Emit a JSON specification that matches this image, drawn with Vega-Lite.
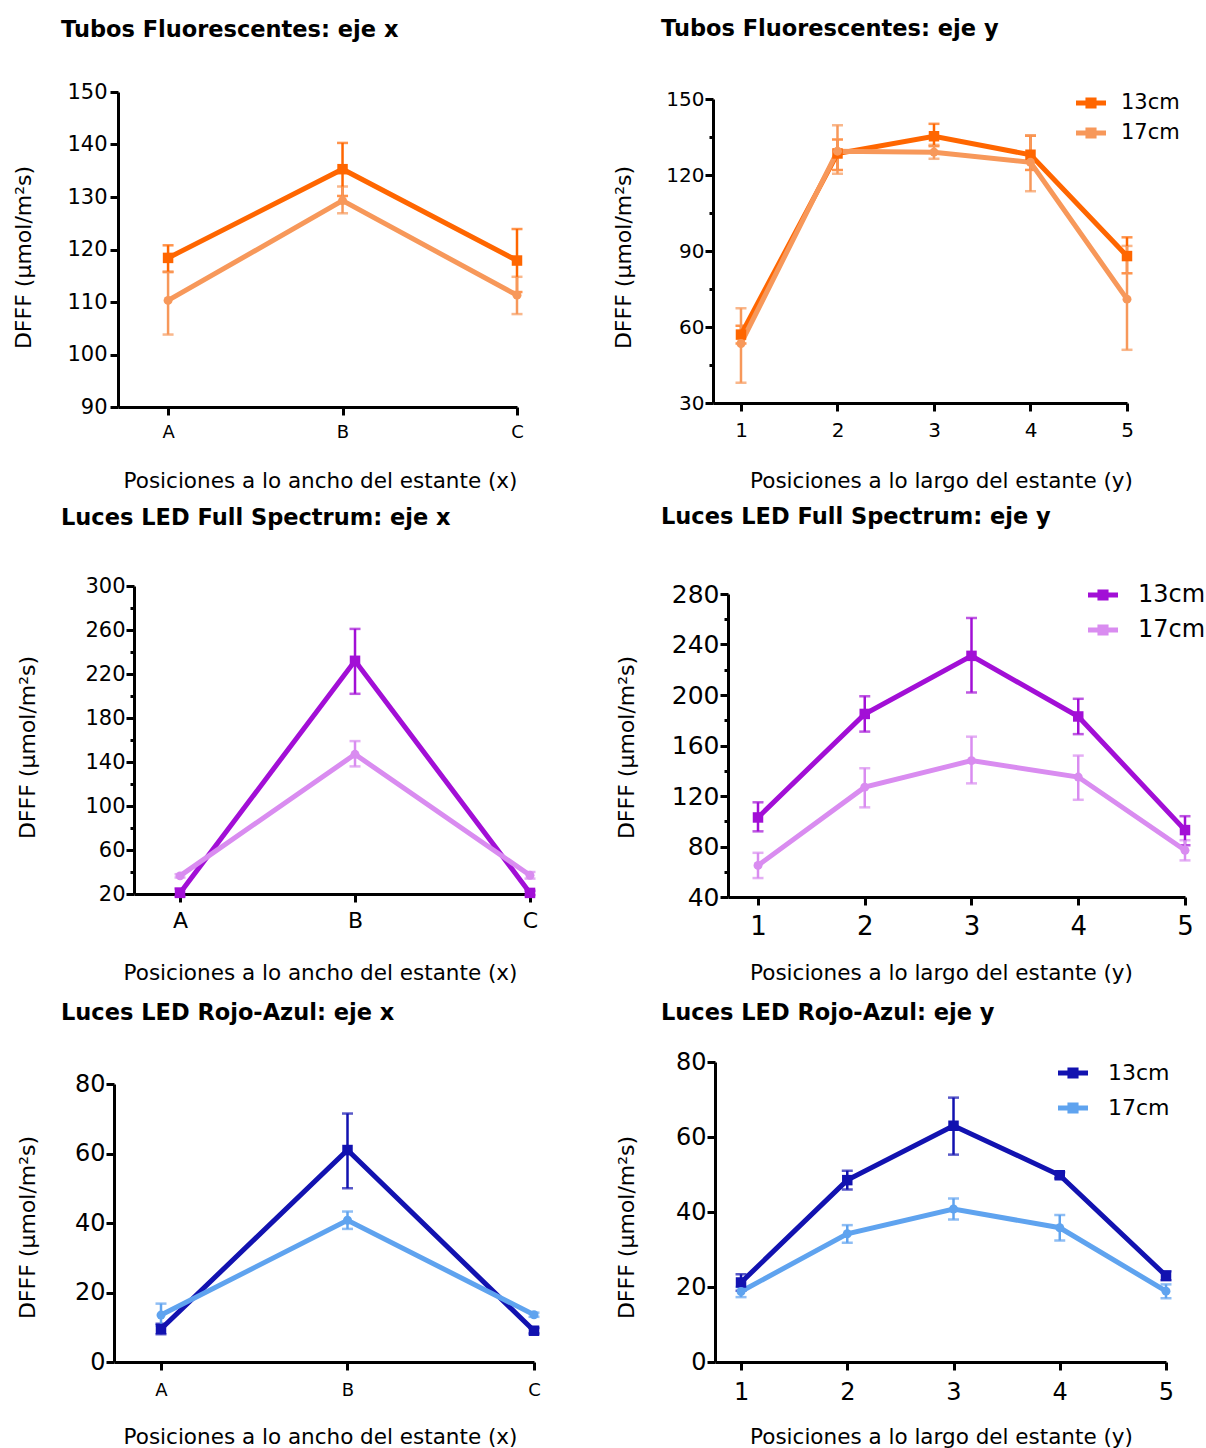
{
  "$schema": "https://vega.github.io/schema/vega-lite/v6.json",
  "background": "white",
  "padding": {"left": 12, "top": 17, "right": 5, "bottom": 5},
  "config": {
    "font": "DejaVu Sans",
    "view": {"stroke": null},
    "axis": {"domainColor": "black", "domainWidth": 3, "tickColor": "black", "tickWidth": 3, "tickSize": 8, "labelColor": "black", "titleColor": "black", "grid": false, "titleFontWeight": "normal", "labelPadding": 1, "labelFlush": false, "labelOverlap": false},
    "title": {"fontWeight": "bold", "fontSize": 22.5, "color": "black", "anchor": "start", "frame": "group"},
    "legend": {"labelColor": "black", "padding": 0, "rowPadding": 0, "symbolSize": 900, "symbolStrokeWidth": 0, "symbolOpacity": 1, "title": null}
  },
  "datasets": {
    "p1": [
      {"pos": 0, "s": "13cm", "v": 118.4, "lo": 115.7, "hi": 120.8},
      {"pos": 1, "s": "13cm", "v": 135.3, "lo": 130.2, "hi": 140.3},
      {"pos": 2, "s": "13cm", "v": 117.9, "lo": 111.9, "hi": 123.9},
      {"pos": 0, "s": "17cm", "v": 110.3, "lo": 103.8, "hi": 115.8},
      {"pos": 1, "s": "17cm", "v": 129.3, "lo": 126.9, "hi": 132.0},
      {"pos": 2, "s": "17cm", "v": 111.3, "lo": 107.7, "hi": 114.8}
    ],
    "p2": [
      {"pos": 1, "s": "13cm", "v": 57, "lo": 53.5, "hi": 60.5},
      {"pos": 2, "s": "13cm", "v": 128.5, "lo": 122, "hi": 134},
      {"pos": 3, "s": "13cm", "v": 135.3, "lo": 131.4, "hi": 140.2},
      {"pos": 4, "s": "13cm", "v": 128, "lo": 122, "hi": 135.5},
      {"pos": 5, "s": "13cm", "v": 88, "lo": 81.2, "hi": 95.4},
      {"pos": 1, "s": "17cm", "v": 53.5, "lo": 38, "hi": 67.4},
      {"pos": 2, "s": "17cm", "v": 129.4, "lo": 120.5, "hi": 139.6},
      {"pos": 3, "s": "17cm", "v": 129, "lo": 126.4, "hi": 131.9},
      {"pos": 4, "s": "17cm", "v": 125, "lo": 113.6, "hi": 135.7},
      {"pos": 5, "s": "17cm", "v": 71, "lo": 51, "hi": 92}
    ],
    "p3": [
      {"pos": 0, "s": "13cm", "v": 21, "lo": 18, "hi": 25},
      {"pos": 1, "s": "13cm", "v": 232, "lo": 202, "hi": 261},
      {"pos": 2, "s": "13cm", "v": 21, "lo": 19, "hi": 23},
      {"pos": 0, "s": "17cm", "v": 36.5, "lo": 35, "hi": 38},
      {"pos": 1, "s": "17cm", "v": 147, "lo": 136, "hi": 159},
      {"pos": 2, "s": "17cm", "v": 37, "lo": 34, "hi": 40}
    ],
    "p4": [
      {"pos": 1, "s": "13cm", "v": 103, "lo": 92, "hi": 115},
      {"pos": 2, "s": "13cm", "v": 185, "lo": 171, "hi": 199},
      {"pos": 3, "s": "13cm", "v": 231, "lo": 202, "hi": 261},
      {"pos": 4, "s": "13cm", "v": 183, "lo": 169, "hi": 197},
      {"pos": 5, "s": "13cm", "v": 93, "lo": 81, "hi": 104},
      {"pos": 1, "s": "17cm", "v": 65, "lo": 55, "hi": 75},
      {"pos": 2, "s": "17cm", "v": 127, "lo": 111, "hi": 142},
      {"pos": 3, "s": "17cm", "v": 148, "lo": 130, "hi": 167},
      {"pos": 4, "s": "17cm", "v": 135, "lo": 117, "hi": 152},
      {"pos": 5, "s": "17cm", "v": 77, "lo": 69, "hi": 85}
    ],
    "p5": [
      {"pos": 0, "s": "13cm", "v": 9.5, "lo": 8, "hi": 11},
      {"pos": 1, "s": "13cm", "v": 61, "lo": 50, "hi": 71.5},
      {"pos": 2, "s": "13cm", "v": 9, "lo": 8.2, "hi": 9.8},
      {"pos": 0, "s": "17cm", "v": 13.5, "lo": 10.5, "hi": 16.8},
      {"pos": 1, "s": "17cm", "v": 40.8, "lo": 38.3, "hi": 43.3},
      {"pos": 2, "s": "17cm", "v": 13.6, "lo": 13, "hi": 14.2}
    ],
    "p6": [
      {"pos": 1, "s": "13cm", "v": 21.2, "lo": 19, "hi": 23.4},
      {"pos": 2, "s": "13cm", "v": 48.5, "lo": 46, "hi": 51},
      {"pos": 3, "s": "13cm", "v": 63, "lo": 55.3, "hi": 70.5},
      {"pos": 4, "s": "13cm", "v": 49.8, "lo": 49, "hi": 50.6},
      {"pos": 5, "s": "13cm", "v": 23, "lo": 21.8, "hi": 24.2},
      {"pos": 1, "s": "17cm", "v": 18.8, "lo": 17.3, "hi": 20},
      {"pos": 2, "s": "17cm", "v": 34.2, "lo": 31.8, "hi": 36.5},
      {"pos": 3, "s": "17cm", "v": 40.8, "lo": 38, "hi": 43.6},
      {"pos": 4, "s": "17cm", "v": 35.8, "lo": 32.4, "hi": 39.2},
      {"pos": 5, "s": "17cm", "v": 18.9, "lo": 17, "hi": 20.7}
    ]
  },
  "columns": 2,
  "spacing": {"row": 165, "column": 177},
  "bounds": "flush",
  "resolve": {
    "scale": {"x": "independent", "y": "independent", "color": "independent", "shape": "independent"},
    "axis": {"x": "independent", "y": "independent"},
    "legend": {"color": "independent", "shape": "independent"}
  },
  "concat": [
    {
      "width": 422, "height": 329,
      "data": {"name": "p1"},
      "title": {"text": "Tubos Fluorescentes: eje x", "dx": -53, "offset": 40},
      "encoding": {
        "x": {"field": "pos", "type": "quantitative", "scale": {"domain": [-0.287, 2], "range": [4, 403], "nice": false, "zero": false},
          "axis": {"values": [0, 1, 2], "labelExpr": "['A','B','C'][datum.value]", "labelFontSize": 18, "labelPadding": 8, "offset": -14, "title": "Posiciones a lo ancho del estante (x)", "titleFontSize": 21.5, "titleX": 206, "titleY": 74, "titleBaseline": "middle", "titleAlign": "center"}},
        "y": {"field": "v", "type": "quantitative", "scale": {"domain": [90, 150], "range": [315, 0], "nice": false, "zero": false},
          "axis": {"values": [90, 100, 110, 120, 130, 140, 150], "labelFontSize": 21, "labelPadding": 3, "offset": -4, "title": "DFFF (µmol/m²s)", "titleFontSize": 22, "titleX": -95, "titleY": 165, "titleBaseline": "middle", "titleAlign": "center", "titleAngle": 270}},
        "color": {"field": "s", "type": "nominal", "scale": {"domain": ["13cm", "17cm"], "range": ["#ff6600", "#f7985a"]}, "legend": null}
      },
      "layer": [
        {"mark": {"type": "errorbar", "ticks": {"size": 11}, "thickness": 2.5},
         "encoding": {"y": {"field": "lo", "type": "quantitative", "scale": {"domain": [90, 150], "range": [315, 0], "nice": false, "zero": false},
           "axis": {"values": [90, 100, 110, 120, 130, 140, 150], "labelFontSize": 21, "labelPadding": 3, "offset": -4, "title": "DFFF (µmol/m²s)", "titleFontSize": 22, "titleX": -95, "titleY": 165, "titleBaseline": "middle", "titleAlign": "center", "titleAngle": 270}}, "y2": {"field": "hi"}}},
        {"mark": {"type": "line", "strokeWidth": 5}},
        {"transform": [{"filter": "datum.s === '13cm'"}], "mark": {"type": "point", "shape": "square", "filled": true, "opacity": 1, "size": 110}},
        {"transform": [{"filter": "datum.s === '17cm'"}], "mark": {"type": "point", "shape": "circle", "filled": true, "opacity": 1, "size": 80}}
      ]
    },
    {
      "width": 473, "height": 329,
      "data": {"name": "p2"},
      "title": {"text": "Tubos Fluorescentes: eje y", "dx": -52, "offset": 48},
      "encoding": {
        "x": {"field": "pos", "type": "quantitative", "scale": {"domain": [0.71, 5], "range": [0, 414], "nice": false, "zero": false},
          "axis": {"values": [1, 2, 3, 4, 5], "format": "d", "labelFontSize": 20, "labelPadding": 9, "offset": -18, "title": "Posiciones a lo largo del estante (y)", "titleFontSize": 21.5, "titleX": 228, "titleY": 78, "titleBaseline": "middle", "titleAlign": "center"}},
        "y": {"field": "v", "type": "quantitative", "scale": {"domain": [30, 150], "range": [311, 7], "nice": false, "zero": false},
          "axis": {"values": [30, 45, 60, 75, 90, 105, 120, 135, 150], "labelExpr": "datum.value % 30 === 0 ? datum.label : ''", "tickSize": {"condition": {"test": "datum.value % 30 !== 0", "value": 4}, "value": 8}, "labelFontSize": 20, "title": "DFFF (µmol/m²s)", "titleFontSize": 22, "titleX": -90, "titleY": 165, "titleBaseline": "middle", "titleAlign": "center", "titleAngle": 270}},
        "color": {"field": "s", "type": "nominal", "scale": {"domain": ["13cm", "17cm"], "range": ["#ff6600", "#f7985a"]},
          "legend": {"orient": "none", "legendX": 363, "legendY": -4, "labelFontSize": 21, "labelOffset": 15, "rowPadding": 5, "symbolType": "M-1,-0.17H1V0.17H-1Z M-0.37,-0.37H0.37V0.37H-0.37Z"}}
      },
      "layer": [
        {"mark": {"type": "errorbar", "ticks": {"size": 11}, "thickness": 2.5},
         "encoding": {"y": {"field": "lo", "type": "quantitative", "scale": {"domain": [30, 150], "range": [311, 7], "nice": false, "zero": false},
           "axis": {"values": [30, 45, 60, 75, 90, 105, 120, 135, 150], "labelExpr": "datum.value % 30 === 0 ? datum.label : ''", "tickSize": {"condition": {"test": "datum.value % 30 !== 0", "value": 4}, "value": 8}, "labelFontSize": 20, "title": "DFFF (µmol/m²s)", "titleFontSize": 22, "titleX": -90, "titleY": 165, "titleBaseline": "middle", "titleAlign": "center", "titleAngle": 270}}, "y2": {"field": "hi"}}},
        {"mark": {"type": "line", "strokeWidth": 5}},
        {"transform": [{"filter": "datum.s === '13cm'"}], "mark": {"type": "point", "shape": "square", "filled": true, "opacity": 1, "size": 110}},
        {"transform": [{"filter": "datum.s === '17cm'"}], "mark": {"type": "point", "shape": "circle", "filled": true, "opacity": 1, "size": 80}}
      ]
    },
    {
      "width": 422, "height": 311,
      "data": {"name": "p3"},
      "title": {"text": "Luces LED Full Spectrum: eje x", "dx": -53, "offset": 46},
      "encoding": {
        "x": {"field": "pos", "type": "quantitative", "scale": {"domain": [-0.263, 2], "range": [20, 416], "nice": false, "zero": false},
          "axis": {"values": [0, 1, 2], "labelExpr": "['A','B','C'][datum.value]", "labelFontSize": 22, "labelPadding": 8, "offset": -3, "title": "Posiciones a lo ancho del estante (x)", "titleFontSize": 21.5, "titleX": 206, "titleY": 79, "titleBaseline": "middle", "titleAlign": "center"}},
        "y": {"field": "v", "type": "quantitative", "scale": {"domain": [20, 300], "range": [308, 0], "nice": false, "zero": false},
          "axis": {"values": [20, 40, 60, 80, 100, 120, 140, 160, 180, 200, 220, 240, 260, 280, 300], "labelExpr": "(datum.value - 20) % 40 === 0 ? datum.label : ''", "tickSize": {"condition": {"test": "(datum.value - 20) % 40 !== 0", "value": 4}, "value": 8}, "labelFontSize": 21, "offset": -20, "title": "DFFF (µmol/m²s)", "titleFontSize": 22, "titleX": -107, "titleY": 161, "titleBaseline": "middle", "titleAlign": "center", "titleAngle": 270}},
        "color": {"field": "s", "type": "nominal", "scale": {"domain": ["13cm", "17cm"], "range": ["#a20fd6", "#d98cf0"]}, "legend": null}
      },
      "layer": [
        {"mark": {"type": "errorbar", "ticks": {"size": 11}, "thickness": 2.5},
         "encoding": {"y": {"field": "lo", "type": "quantitative", "scale": {"domain": [20, 300], "range": [308, 0], "nice": false, "zero": false},
           "axis": {"values": [20, 40, 60, 80, 100, 120, 140, 160, 180, 200, 220, 240, 260, 280, 300], "labelExpr": "(datum.value - 20) % 40 === 0 ? datum.label : ''", "tickSize": {"condition": {"test": "(datum.value - 20) % 40 !== 0", "value": 4}, "value": 8}, "labelFontSize": 21, "offset": -20, "title": "DFFF (µmol/m²s)", "titleFontSize": 22, "titleX": -107, "titleY": 161, "titleBaseline": "middle", "titleAlign": "center", "titleAngle": 270}}, "y2": {"field": "hi"}}},
        {"mark": {"type": "line", "strokeWidth": 5}},
        {"transform": [{"filter": "datum.s === '13cm'"}], "mark": {"type": "point", "shape": "square", "filled": true, "opacity": 1, "size": 110}},
        {"transform": [{"filter": "datum.s === '17cm'"}], "mark": {"type": "point", "shape": "circle", "filled": true, "opacity": 1, "size": 80}}
      ]
    },
    {
      "width": 473, "height": 311,
      "data": {"name": "p4"},
      "title": {"text": "Luces LED Full Spectrum: eje y", "dx": -52, "offset": 52},
      "encoding": {
        "x": {"field": "pos", "type": "quantitative", "scale": {"domain": [0.719, 5], "range": [15, 472], "nice": false, "zero": false},
          "axis": {"values": [1, 2, 3, 4, 5], "format": "d", "labelFontSize": 26, "labelPadding": 8, "title": "Posiciones a lo largo del estante (y)", "titleFontSize": 21.5, "titleX": 228, "titleY": 76, "titleBaseline": "middle", "titleAlign": "center"}},
        "y": {"field": "v", "type": "quantitative", "scale": {"domain": [40, 280], "range": [311, 8], "nice": false, "zero": false},
          "axis": {"values": [40, 60, 80, 100, 120, 140, 160, 180, 200, 220, 240, 260, 280], "labelExpr": "datum.value % 40 === 0 ? datum.label : ''", "tickSize": {"condition": {"test": "datum.value % 40 !== 0", "value": 4}, "value": 8}, "labelFontSize": 25, "offset": -15, "title": "DFFF (µmol/m²s)", "titleFontSize": 22, "titleX": -102, "titleY": 161, "titleBaseline": "middle", "titleAlign": "center", "titleAngle": 270}},
        "color": {"field": "s", "type": "nominal", "scale": {"domain": ["13cm", "17cm"], "range": ["#a20fd6", "#d98cf0"]},
          "legend": {"orient": "none", "legendX": 375, "legendY": -6, "labelFontSize": 24, "labelOffset": 20, "rowPadding": 8, "symbolType": "M-1,-0.17H1V0.17H-1Z M-0.37,-0.37H0.37V0.37H-0.37Z"}}
      },
      "layer": [
        {"mark": {"type": "errorbar", "ticks": {"size": 11}, "thickness": 2.5},
         "encoding": {"y": {"field": "lo", "type": "quantitative", "scale": {"domain": [40, 280], "range": [311, 8], "nice": false, "zero": false},
           "axis": {"values": [40, 60, 80, 100, 120, 140, 160, 180, 200, 220, 240, 260, 280], "labelExpr": "datum.value % 40 === 0 ? datum.label : ''", "tickSize": {"condition": {"test": "datum.value % 40 !== 0", "value": 4}, "value": 8}, "labelFontSize": 25, "offset": -15, "title": "DFFF (µmol/m²s)", "titleFontSize": 22, "titleX": -102, "titleY": 161, "titleBaseline": "middle", "titleAlign": "center", "titleAngle": 270}}, "y2": {"field": "hi"}}},
        {"mark": {"type": "line", "strokeWidth": 5}},
        {"transform": [{"filter": "datum.s === '13cm'"}], "mark": {"type": "point", "shape": "square", "filled": true, "opacity": 1, "size": 110}},
        {"transform": [{"filter": "datum.s === '17cm'"}], "mark": {"type": "point", "shape": "circle", "filled": true, "opacity": 1, "size": 80}}
      ]
    },
    {
      "width": 422, "height": 300,
      "data": {"name": "p5"},
      "title": {"text": "Luces LED Rojo-Azul: eje x", "dx": -53, "offset": 38},
      "encoding": {
        "x": {"field": "pos", "type": "quantitative", "scale": {"domain": [-0.252, 2], "range": [0, 420], "nice": false, "zero": false},
          "axis": {"values": [0, 1, 2], "labelExpr": "['A','B','C'][datum.value]", "labelFontSize": 18, "labelPadding": 11, "title": "Posiciones a lo ancho del estante (x)", "titleFontSize": 21.5, "titleX": 206, "titleY": 75, "titleBaseline": "middle", "titleAlign": "center"}},
        "y": {"field": "v", "type": "quantitative", "scale": {"domain": [0, 80], "range": [300, 22], "nice": false, "zero": false},
          "axis": {"values": [0, 20, 40, 60, 80], "labelFontSize": 24, "title": "DFFF (µmol/m²s)", "titleFontSize": 22, "titleX": -87, "titleY": 165, "titleBaseline": "middle", "titleAlign": "center", "titleAngle": 270}},
        "color": {"field": "s", "type": "nominal", "scale": {"domain": ["13cm", "17cm"], "range": ["#1212b0", "#5fa3ef"]}, "legend": null}
      },
      "layer": [
        {"mark": {"type": "errorbar", "ticks": {"size": 11}, "thickness": 2.5},
         "encoding": {"y": {"field": "lo", "type": "quantitative", "scale": {"domain": [0, 80], "range": [300, 22], "nice": false, "zero": false},
           "axis": {"values": [0, 20, 40, 60, 80], "labelFontSize": 24, "title": "DFFF (µmol/m²s)", "titleFontSize": 22, "titleX": -87, "titleY": 165, "titleBaseline": "middle", "titleAlign": "center", "titleAngle": 270}}, "y2": {"field": "hi"}}},
        {"mark": {"type": "line", "strokeWidth": 5}},
        {"transform": [{"filter": "datum.s === '13cm'"}], "mark": {"type": "point", "shape": "square", "filled": true, "opacity": 1, "size": 110}},
        {"transform": [{"filter": "datum.s === '17cm'"}], "mark": {"type": "point", "shape": "circle", "filled": true, "opacity": 1, "size": 80}}
      ]
    },
    {
      "width": 473, "height": 300,
      "data": {"name": "p6"},
      "title": {"text": "Luces LED Rojo-Azul: eje y", "dx": -52, "offset": 26},
      "encoding": {
        "x": {"field": "pos", "type": "quantitative", "scale": {"domain": [0.755, 5], "range": [2, 453], "nice": false, "zero": false},
          "axis": {"values": [1, 2, 3, 4, 5], "format": "d", "labelFontSize": 24, "labelPadding": 10, "title": "Posiciones a lo largo del estante (y)", "titleFontSize": 21.5, "titleX": 228, "titleY": 75, "titleBaseline": "middle", "titleAlign": "center"}},
        "y": {"field": "v", "type": "quantitative", "scale": {"domain": [0, 80], "range": [300, 0], "nice": false, "zero": false},
          "axis": {"values": [0, 20, 40, 60, 80], "labelFontSize": 24, "offset": -2, "title": "DFFF (µmol/m²s)", "titleFontSize": 22, "titleX": -89, "titleY": 165, "titleBaseline": "middle", "titleAlign": "center", "titleAngle": 270}},
        "color": {"field": "s", "type": "nominal", "scale": {"domain": ["13cm", "17cm"], "range": ["#1212b0", "#5fa3ef"]},
          "legend": {"orient": "none", "legendX": 345, "legendY": -4, "labelFontSize": 22, "labelOffset": 20, "rowPadding": 9, "symbolType": "M-1,-0.17H1V0.17H-1Z M-0.37,-0.37H0.37V0.37H-0.37Z"}}
      },
      "layer": [
        {"mark": {"type": "errorbar", "ticks": {"size": 11}, "thickness": 2.5},
         "encoding": {"y": {"field": "lo", "type": "quantitative", "scale": {"domain": [0, 80], "range": [300, 0], "nice": false, "zero": false},
           "axis": {"values": [0, 20, 40, 60, 80], "labelFontSize": 24, "offset": -2, "title": "DFFF (µmol/m²s)", "titleFontSize": 22, "titleX": -89, "titleY": 165, "titleBaseline": "middle", "titleAlign": "center", "titleAngle": 270}}, "y2": {"field": "hi"}}},
        {"mark": {"type": "line", "strokeWidth": 5}},
        {"transform": [{"filter": "datum.s === '13cm'"}], "mark": {"type": "point", "shape": "square", "filled": true, "opacity": 1, "size": 110}},
        {"transform": [{"filter": "datum.s === '17cm'"}], "mark": {"type": "point", "shape": "circle", "filled": true, "opacity": 1, "size": 80}}
      ]
    }
  ]
}
